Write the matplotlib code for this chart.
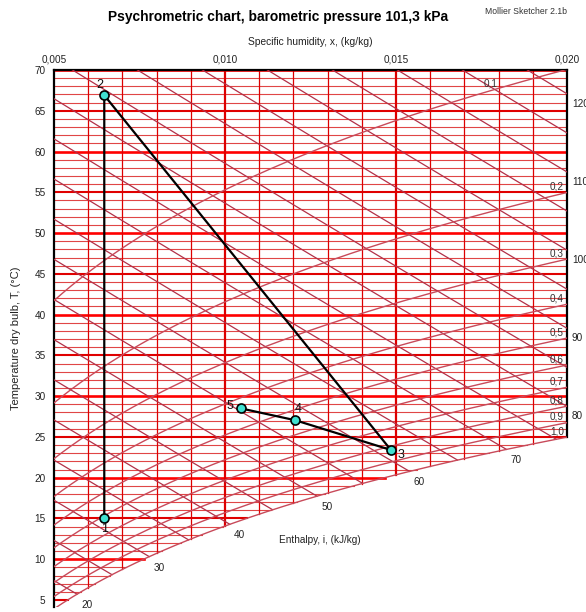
# -*- coding: utf-8 -*-
# Diagrama de Mollier (psicrometrico) con un proceso de 5 puntos
import numpy as np
import matplotlib
matplotlib.use("Agg")
from matplotlib import pyplot as plt

plt.rcParams['font.family'] = ['Liberation Sans', 'DejaVu Sans']

# Presion barometrica en kPa
P = 101.3

# Puntos del proceso (humedad especifica kg/kg, temperatura seca C)
punto_nombre = ['1', '2', '3', '4', '5']
punto_x = [0.00647, 0.00647, 0.01485, 0.01205, 0.01046]
punto_t = [15.0, 66.9, 23.4, 27.05, 28.5]

# Ejes
humedad_ticks = [0.005, 0.010, 0.015, 0.020]
humedad_labels = ['0,005', '0,010', '0,015', '0,020']
temp_ticks = [5, 10, 15, 20, 25, 30, 35, 40, 45, 50, 55, 60, 65, 70]

# Lineas de la red
temp_lineas = list(range(5, 71))
humedad_lineas = [0.006, 0.007, 0.008, 0.009, 0.010, 0.011, 0.012,
                  0.013, 0.014, 0.015, 0.016, 0.017, 0.018, 0.019]
hr_niveles = [0.1, 0.2, 0.3, 0.4, 0.5, 0.6, 0.7, 0.8, 0.9, 1.0]
hr_labels = ['0,1', '0,2', '0,3', '0,4', '0,5', '0,6', '0,7', '0,8', '0,9', '1,0']
entalpia_niveles = [20, 25, 30, 35, 40, 45, 50, 55, 60, 65, 70,
                    75, 80, 85, 90, 95, 100, 105, 110, 115, 120]

X_MIN, X_MAX = 0.005, 0.020
T_MIN, T_MAX = 4.14, 70


# Presion de saturacion (Magnus), kPa
def psat(T):
    return 0.61094 * np.exp(17.625 * T / (T + 243.04))


def t_desde_pv(pv):
    a = np.log(pv / 0.61094)
    return 243.04 * a / (17.625 - a)


def x_humedad(T, phi=1.0):
    pv = phi * psat(T)
    return 0.622 * pv / (P - pv)


def pv_desde_x(x):
    return x * P / (0.622 + x)


# Temperatura de rocio para una humedad dada
def t_rocio(x):
    return t_desde_pv(pv_desde_x(x))


# Temperatura sobre una linea de entalpia constante
def t_entalpia(i, x):
    return (i - 2501 * x) / (1.006 + 1.86 * x)


fig = plt.figure(figsize=(5.86, 6.12), dpi=100)
ax = fig.add_axes([54 / 586, 1 - 607 / 612, (567 - 54) / 586, (607 - 70) / 612])
ax.set_xlim(X_MIN, X_MAX)
ax.set_ylim(T_MIN, T_MAX)

# Lineas de temperatura (horizontales)
for T in temp_lineas:
    x_fin = min(x_humedad(T), X_MAX)
    if T % 10 == 0:
        c, lw = '#ff0000', 1.9
    elif T % 5 == 0:
        c, lw = '#e00000', 1.5
    else:
        c, lw = '#e04646', 0.8
    ax.plot([X_MIN, x_fin], [T, T], color=c, lw=lw, zorder=2)

# Lineas de humedad (verticales)
for x in humedad_lineas:
    lw = 1.6 if abs(x - 0.010) < 1e-9 or abs(x - 0.015) < 1e-9 else 0.9
    ax.plot([x, x], [t_rocio(x), T_MAX], color='#dd0000', lw=lw, zorder=2)

# Lineas de entalpia
xs = np.linspace(X_MIN, X_MAX, 4000)
for i in entalpia_niveles:
    ts = t_entalpia(i, xs)
    ok = ts >= t_rocio(xs)
    ax.plot(xs[ok], ts[ok], color='#b23048', lw=0.9, zorder=3)
    if i % 10 != 0:
        continue
    if ok[-1]:
        ax.annotate(str(i), (X_MAX, ts[-1]), xytext=(5, -10),
                    textcoords='offset pixels', ha='left', va='center',
                    fontsize=7.2, color='#222222', annotation_clip=False)
    else:
        k = np.where(ok)[0][-1]
        ax.annotate(str(i), (xs[k], ts[k]), xytext=(10, -11),
                    textcoords='offset pixels', ha='center', va='center',
                    fontsize=7.2, color='#222222', annotation_clip=False)

# Curvas de humedad relativa
tt = np.linspace(-5, 75, 3000)
for phi, lab in zip(hr_niveles, hr_labels):
    ax.plot(x_humedad(tt, phi), tt, color='#c84a5a', lw=1.0, zorder=3)
    t_borde = t_desde_pv(pv_desde_x(X_MAX) / phi)
    if t_borde <= T_MAX:
        ax.annotate(lab, (X_MAX, t_borde), xytext=(-3, 1),
                    textcoords='offset pixels', ha='right', va='bottom',
                    fontsize=7.2, color='#333333')
    else:
        x_lab = 0.01778
        t_lab = t_desde_pv(pv_desde_x(x_lab) / phi)
        ax.annotate(lab, (x_lab, t_lab), xytext=(0, 7),
                    textcoords='offset pixels', ha='center', va='center',
                    fontsize=7.2, color='#333333')

# Proceso
ax.plot(punto_x, punto_t, color='black', lw=1.6, zorder=5)
ax.plot(punto_x, punto_t, 'o', mfc='#40e0d0', mec='black', ms=6.5, mew=1.2, zorder=6)
offset_etiqueta = {'1': (0, -11), '2': (-4, 10), '3': (10, -5), '4': (3, 11), '5': (-11, 2)}
for n, x, t in zip(punto_nombre, punto_x, punto_t):
    ax.annotate(n, (x, t), xytext=offset_etiqueta[n], textcoords='offset pixels',
                ha='center', va='center', fontsize=9, color='#111111', zorder=7)

# Marco
ax.spines['bottom'].set_visible(False)
for s in ['left', 'top', 'right']:
    ax.spines[s].set_linewidth(1.6)
ax.spines['right'].set_bounds(t_rocio(X_MAX), T_MAX)

ax.xaxis.tick_top()
ax.set_xticks(humedad_ticks, humedad_labels)
ax.set_yticks(temp_ticks)
ax.tick_params(axis='x', length=0, pad=4, labelsize=7.2, colors='#222222')
ax.tick_params(axis='y', length=0, pad=6, labelsize=7.2, colors='#222222')

# Textos
fig.text(278 / 586, 1 - 17 / 612, 'Psychrometric chart, barometric pressure 101,3 kPa',
         ha='center', va='center', fontsize=9.9, fontweight='bold')
fig.text(526 / 586, 1 - 11 / 612, 'Mollier Sketcher 2.1b', ha='center', va='center',
         fontsize=6.2, color='#333333')
fig.text(310 / 586, 1 - 42 / 612, 'Specific humidity, x, (kg/kg)', ha='center',
         va='center', fontsize=7.4, color='#222222')
fig.text(16 / 586, 1 - 338 / 612, 'Temperature dry bulb, T, (\u00b0C)', ha='center',
         va='center', rotation=90, fontsize=8.0, color='#222222')
fig.text(320 / 586, 1 - 540 / 612, 'Enthalpy, i, (kJ/kg)', ha='center', va='center',
         fontsize=7.2, color='#222222')

fig.savefig('out.png', dpi=100)
